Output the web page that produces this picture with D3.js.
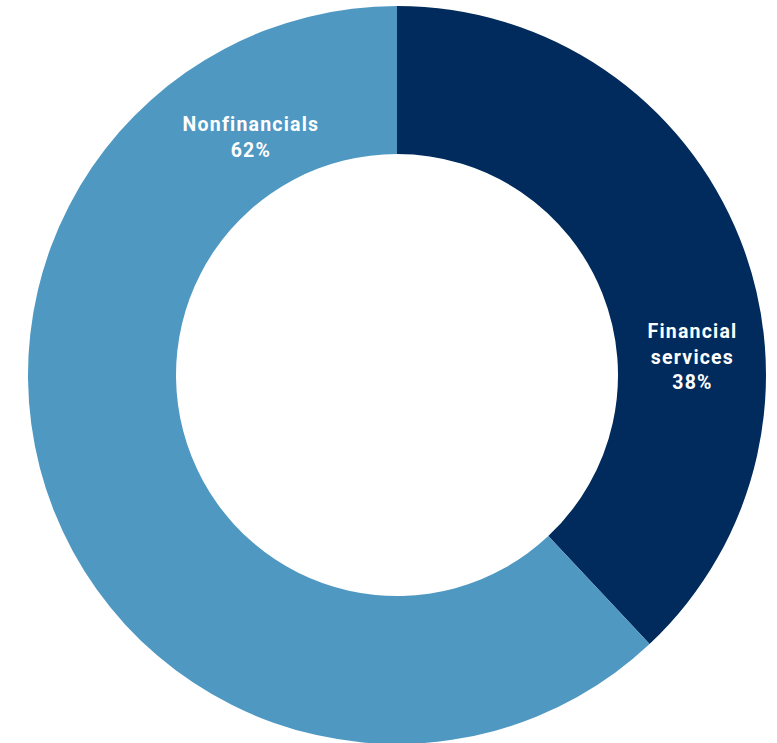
<!DOCTYPE html>
<html>
<head>
<meta charset="utf-8">
<script src="https://cdn.jsdelivr.net/npm/d3@7"></script>
<style>
  html, body { margin: 0; padding: 0; background: #ffffff; }
  svg { display: block; }
  text { font-family: Roboto, "Open Sans", sans-serif; font-weight: 700; fill: #ffffff; }
</style>
</head>
<body>
<div id="chart"></div>
<script>
// Share of total by sector
const categories = ["Financial services", "Nonfinancials"];
const values = [38, 62];
const labelLines = [["Financial", "services", "38%"], ["Nonfinancials", "62%"]];
const colors = ["#002B5C", "#4F98C2"];

const width = 777, height = 743;
const cx = 397, cy = 375;
const outerR = 369, innerR = 221;

// label placement (angle in radians from 12 o'clock, radius from centre)
const labelPlacement = [
  { angle: 1.510, r: 296 },
  { angle: -0.551, r: 279 }
];

const svg = d3.select("#chart").append("svg")
  .attr("width", width).attr("height", height);

const g = svg.append("g").attr("transform", `translate(${cx},${cy})`);

const pie = d3.pie().sort(null).value(d => d)(values);
const arc = d3.arc().innerRadius(innerR).outerRadius(outerR);

g.selectAll("path.slice")
  .data(pie)
  .join("path")
  .attr("class", "slice")
  .attr("d", arc)
  .attr("fill", (d, i) => colors[i]);

const lineH = 25.5;
pie.forEach((d, i) => {
  const [x, y] = d3.pointRadial(labelPlacement[i].angle, labelPlacement[i].r);
  const lines = labelLines[i];
  const t = g.append("text")
    .attr("text-anchor", "middle")
    .attr("font-size", 19.5)
    .attr("letter-spacing", 1.2)
    .attr("x", x)
    .attr("y", y - (lines.length - 1) * lineH / 2);
  lines.forEach((s, j) => {
    t.append("tspan").attr("x", x).attr("dy", j === 0 ? "0.35em" : lineH).text(s);
  });
});
</script>
</body>
</html>
